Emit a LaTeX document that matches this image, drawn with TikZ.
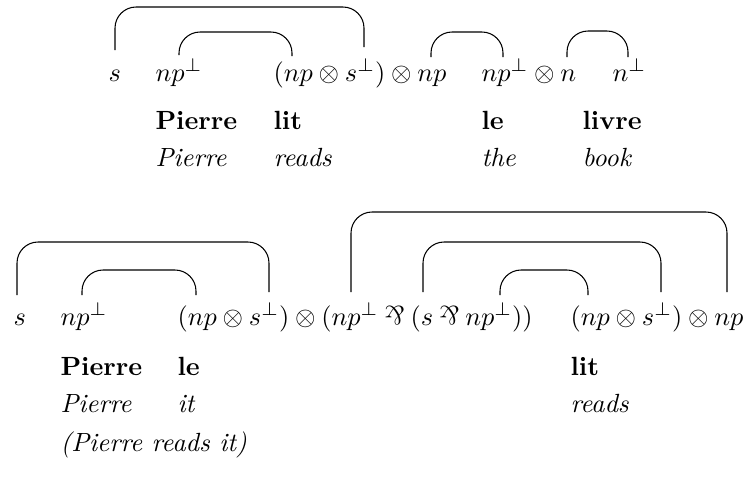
\documentclass[tikz,border=0pt]{standalone}
\usepackage{amsmath,amssymb}
\usepackage{graphicx}
\usepackage{tikz}
\usetikzlibrary{positioning}
\newcommand{\lpar}{\mathbin{\rotatebox[origin=c]{180}{$\&$}}}

\begin{document}
\begin{tikzpicture}[
  x=0.38pt, y=-0.38pt,
  atom/.style ={inner sep=0pt,anchor=base west},
  word/.style ={atom,font=\bfseries},
  gloss/.style={atom,font=\itshape},
  axlink/.style={rounded corners=8pt,line width=0.4pt},
]
\useasboundingbox (0,0) rectangle (743,483);

\node[atom] (sA)    at (108,81) {$s$};
\node[atom] (npA)   at (155,81) {$np^{\perp}$};
\node[atom] (litA)  at (273,81) {$(np\otimes s^{\perp})\otimes np$};
\node[atom] (leA)   at (481,81) {$np^{\perp}\otimes n$};
\node[atom] (bookA) at (612,81) {$n^{\perp}$};

\node[word]  (w1) at (155,129) {Pierre};
\node[word]  (w2) at (273,129) {lit};
\node[word]  (w3) at (481,129) {le};
\node[word]  (w4) at (582,129) {livre};
\node[gloss] (g1) at (155,166) {Pierre};
\node[gloss] (g2) at (273,166) {reads};
\node[gloss] (g3) at (481,166) {the};
\node[gloss] (g4) at (582,166) {book};

\coordinate (a1) at (115,50);  \coordinate (b1) at (364,47);
\coordinate (a2) at (179,55);  \coordinate (b2) at (292,56);
\coordinate (a3) at (431,57);  \coordinate (b3) at (503,57);
\coordinate (a4) at (567,57);  \coordinate (b4) at (628,57);
\draw[axlink] (a1) -- ++(0,-43) -| (b1);
\draw[axlink] (a2) -- ++(0,-23) -| (b2);
\draw[axlink] (a3) -- ++(0,-25) -| (b3);
\draw[axlink] (a4) -- ++(0,-26) -| (b4);

\node[atom] (sB)   at (13,325)  {$s$};
\node[atom] (npB)  at (60,325)  {$np^{\perp}$};
\node[atom] (leB)  at (177,325) {$(np\otimes s^{\perp})\otimes(np^{\perp}\lpar(s\lpar np^{\perp}))$};
\node[atom] (litB) at (570,325) {$(np\otimes s^{\perp})\otimes np$};

\node[word]  (w5) at (60,375)  {Pierre};
\node[word]  (w6) at (177,375) {le};
\node[word]  (w7) at (570,375) {lit};
\node[gloss] (g5) at (60,412)  {Pierre};
\node[gloss] (g6) at (177,412) {it};
\node[gloss] (g7) at (570,412) {reads};
\node[gloss] (tr) at (60,451)  {(Pierre reads it)};

\coordinate (c1) at (17,295);  \coordinate (d1) at (269,292);
\coordinate (c2) at (82,295);  \coordinate (d2) at (196,295);
\coordinate (c3) at (351,292); \coordinate (d3) at (727,292);
\coordinate (c4) at (423,292); \coordinate (d4) at (661,292);
\coordinate (c5) at (500,295); \coordinate (d5) at (588,295);
\draw[axlink] (c1) -- ++(0,-53) -| (d1);
\draw[axlink] (c2) -- ++(0,-25) -| (d2);
\draw[axlink] (c3) -- ++(0,-80) -| (d3);
\draw[axlink] (c4) -- ++(0,-50) -| (d4);
\draw[axlink] (c5) -- ++(0,-25) -| (d5);
\end{tikzpicture}
\end{document}
